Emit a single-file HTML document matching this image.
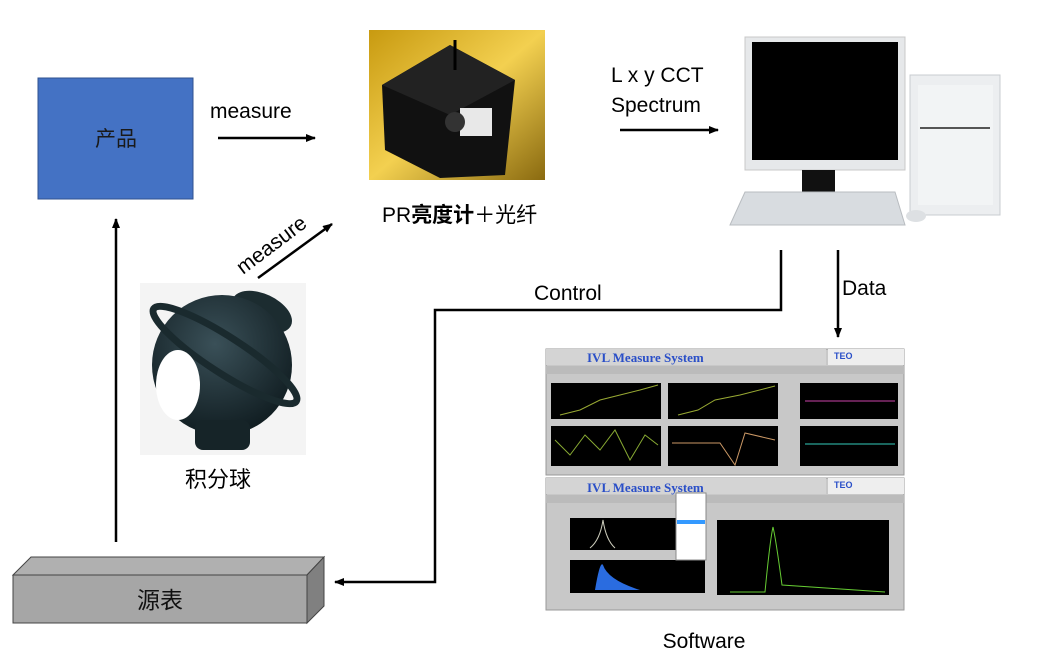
<!DOCTYPE html>
<html><head><meta charset="utf-8"><style>
html,body{margin:0;padding:0;background:#fff;}
svg{display:block;}
text{font-family:"Liberation Sans","Noto Sans CJK SC",sans-serif;}
</style></head><body>
<svg width="1049" height="668" viewBox="0 0 1049 668" xmlns="http://www.w3.org/2000/svg">
<defs>
<marker id="ah" markerWidth="10" markerHeight="8" refX="9" refY="4" orient="auto" markerUnits="userSpaceOnUse"><path d="M0,0 L10,4 L0,8 z" fill="#000"/></marker>
<linearGradient id="bg1" x1="0" y1="0" x2="1" y2="1"><stop offset="0" stop-color="#c89a10"/><stop offset="0.5" stop-color="#f3d050"/><stop offset="1" stop-color="#8a6a10"/></linearGradient>
<radialGradient id="sph" cx="0.45" cy="0.35" r="0.7"><stop offset="0" stop-color="#3a5058"/><stop offset="1" stop-color="#0e1a1e"/></radialGradient>
</defs>
<rect x="38" y="78" width="155" height="121" fill="#4472c4" stroke="#2f528f" stroke-width="1"/>
<text x="116" y="146" font-size="21" text-anchor="middle" fill="#1a1a1a">产品</text>
<text x="210" y="118" font-size="21" fill="#000">measure</text>
<line x1="218" y1="138" x2="315" y2="138" stroke="#000" stroke-width="2.5" marker-end="url(#ah)"/>
<rect x="369" y="30" width="176" height="150" fill="url(#bg1)"/>
<polygon points="382,85 450,45 515,80 505,175 440,178 385,150" fill="#111"/>
<polygon points="382,85 450,45 515,80 450,115" fill="#222"/>
<rect x="460" y="108" width="32" height="28" fill="#e8e8e8"/>
<circle cx="455" cy="122" r="10" fill="#333"/>
<line x1="455" y1="40" x2="455" y2="70" stroke="#000" stroke-width="3"/>
<text x="382" y="222" font-size="21" fill="#000">PR<tspan font-weight="bold">亮度计</tspan>＋光纤</text>
<text x="611" y="82" font-size="21" fill="#000">L x y CCT</text>
<text x="611" y="112" font-size="21" fill="#000">Spectrum</text>
<line x1="620" y1="130" x2="718" y2="130" stroke="#000" stroke-width="2.5" marker-end="url(#ah)"/>
<rect x="745" y="37" width="160" height="133" fill="#e6e8ea" stroke="#c8c8c8"/>
<rect x="752" y="42" width="146" height="118" fill="#000"/>
<rect x="802" y="170" width="33" height="25" fill="#111"/>
<polygon points="745,192 895,192 905,225 730,225" fill="#d8dce0" stroke="#b8bcc0"/>
<rect x="910" y="75" width="90" height="140" fill="#eceef0" stroke="#c8ccd0"/>
<rect x="918" y="85" width="75" height="120" fill="#f2f4f5"/>
<line x1="920" y1="128" x2="990" y2="128" stroke="#555" stroke-width="2"/>
<ellipse cx="916" cy="216" rx="10" ry="6" fill="#dde0e3"/>
<text x="0" y="0" font-size="21" fill="#000" transform="translate(243,275) rotate(-37)">measure</text>
<line x1="258" y1="278" x2="332" y2="224" stroke="#000" stroke-width="2.5" marker-end="url(#ah)"/>
<rect x="140" y="283" width="166" height="172" fill="#f4f4f4"/>
<ellipse cx="262" cy="312" rx="32" ry="18" fill="#1c2c30" transform="rotate(25 262 312)"/>
<circle cx="222" cy="365" r="70" fill="url(#sph)"/>
<ellipse cx="225" cy="355" rx="85" ry="18" fill="none" stroke="#1a2a2e" stroke-width="7" transform="rotate(33 225 355)"/>
<rect x="195" y="420" width="55" height="30" rx="8" fill="#162428"/>
<ellipse cx="178" cy="385" rx="22" ry="35" fill="#fff"/>
<text x="218" y="487" font-size="22" text-anchor="middle" fill="#000">积分球</text>
<line x1="116" y1="542" x2="116" y2="219" stroke="#000" stroke-width="2.5" marker-end="url(#ah)"/>
<polygon points="13,575 31,557 324,557 307,575" fill="#b0b0b0" stroke="#444"/>
<polygon points="307,575 324,557 324,606 307,623" fill="#808080" stroke="#444"/>
<rect x="13" y="575" width="294" height="48" fill="#a6a6a6" stroke="#444"/>
<text x="160" y="608" font-size="23" text-anchor="middle" fill="#111">源表</text>
<polyline points="781,250 781,310 435,310 435,582 335,582" fill="none" stroke="#000" stroke-width="2.5" marker-end="url(#ah)"/>
<text x="534" y="300" font-size="21" fill="#000">Control</text>
<line x1="838" y1="250" x2="838" y2="337" stroke="#000" stroke-width="2.5" marker-end="url(#ah)"/>
<text x="842" y="295" font-size="21" fill="#000">Data</text>
<g>
<rect x="546" y="349" width="358" height="126" fill="#c8c8c8" stroke="#999"/>
<rect x="546" y="349" width="280" height="16" fill="#d4d4d4"/>
<text x="587" y="362" font-size="13" font-weight="bold" fill="#2a4fc8" style="font-family:'Liberation Serif',serif">IVL Measure System</text>
<rect x="828" y="349" width="76" height="16" fill="#eee"/>
<text x="834" y="359" font-size="9" font-weight="bold" fill="#2a4fc8">TEO</text>
<rect x="546" y="366" width="358" height="8" fill="#bbb"/>
<rect x="551" y="383" width="110" height="36" fill="#000"/>
<rect x="668" y="383" width="110" height="36" fill="#000"/>
<rect x="800" y="383" width="98" height="36" fill="#000"/>
<rect x="551" y="426" width="110" height="40" fill="#000"/>
<rect x="668" y="426" width="110" height="40" fill="#000"/>
<rect x="800" y="426" width="98" height="40" fill="#000"/>
<polyline points="560,415 580,410 600,400 620,395 640,390 658,385" fill="none" stroke="#9a3" stroke-width="1"/>
<polyline points="678,415 698,410 715,400 740,395 775,386" fill="none" stroke="#9a3" stroke-width="1"/>
<line x1="805" y1="401" x2="895" y2="401" stroke="#c4a" stroke-width="1"/>
<line x1="805" y1="444" x2="895" y2="444" stroke="#3cb" stroke-width="1"/>
<polyline points="555,440 570,455 585,435 600,450 615,430 630,460 645,435 658,445" fill="none" stroke="#8a3" stroke-width="1"/>
<polyline points="672,443 720,443 735,465 745,433 775,440" fill="none" stroke="#c96" stroke-width="1"/>
<rect x="546" y="478" width="358" height="132" fill="#c8c8c8" stroke="#999"/>
<rect x="546" y="478" width="280" height="16" fill="#d4d4d4"/>
<text x="587" y="492" font-size="13" font-weight="bold" fill="#2a4fc8" style="font-family:'Liberation Serif',serif">IVL Measure System</text>
<rect x="828" y="478" width="76" height="16" fill="#eee"/>
<text x="834" y="488" font-size="9" font-weight="bold" fill="#2a4fc8">TEO</text>
<rect x="546" y="495" width="358" height="8" fill="#bbb"/>
<rect x="570" y="518" width="135" height="32" fill="#000"/>
<rect x="570" y="560" width="135" height="33" fill="#000"/>
<path d="M595,590 Q600,560 603,565 Q608,580 640,590 z" fill="#2a6ce0"/>
<rect x="717" y="520" width="172" height="75" fill="#000"/>
<path d="M730,592 L765,592 Q770,540 773,527 Q776,540 782,585 L885,592" fill="none" stroke="#6c3" stroke-width="1"/>
<path d="M590,548 Q600,540 603,520 Q606,540 615,548" fill="none" stroke="#ccb" stroke-width="1"/>
<rect x="676" y="493" width="30" height="67" fill="#fff" stroke="#888"/>
<rect x="677" y="520" width="28" height="4" fill="#39f"/>
</g>
<text x="704" y="648" font-size="21" text-anchor="middle" fill="#000">Software</text>
</svg>
</body></html>
